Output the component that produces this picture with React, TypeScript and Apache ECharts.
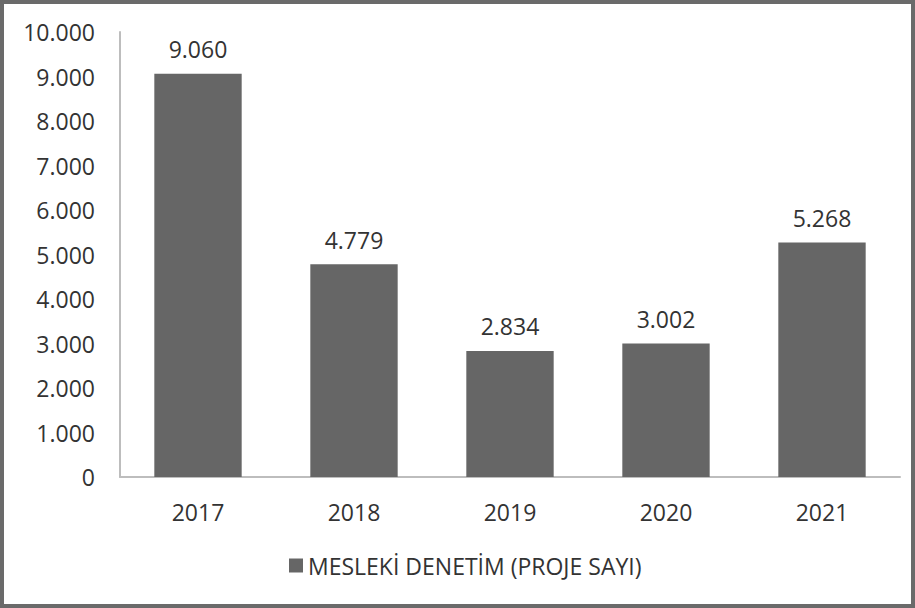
import React, { useEffect, useRef } from "react";
import * as echarts from "echarts";

const categories = ["2017", "2018", "2019", "2020", "2021"];
const values = [9060, 4779, 2834, 3002, 5268];
const seriesName = "MESLEKİ DENETİM (PROJE SAYI)";

const fmt = (v: number) => {
  const s = String(Math.round(v));
  return s.replace(/\B(?=(\d{3})+(?!\d))/g, ".");
};

const FONT = "Open Sans";
const TEXT = "#333333";

export default function App() {
  const ref = useRef<HTMLDivElement>(null);
  useEffect(() => {
    document.body.style.margin = "0";
    const chart = echarts.init(ref.current!, undefined, { renderer: "svg" });
    chart.setOption({
      animation: false,
      backgroundColor: "#ffffff",
      textStyle: { fontFamily: FONT, color: TEXT },
      graphic: [
        {
          type: "rect",
          shape: { x: 2, y: 2, width: 911, height: 604 },
          style: { fill: "none", stroke: "#6a6a6a", lineWidth: 4 },
          z: 100,
        },
      ],
      grid: { left: 120, right: 15, top: 32, bottom: 131, containLabel: false },
      legend: {
        bottom: 26,
        left: 284,
        itemWidth: 14,
        itemHeight: 14,
        itemGap: 6,
        icon: "rect",
        textStyle: { fontFamily: FONT, fontSize: 23, color: TEXT },
        data: [seriesName],
      },
      xAxis: {
        type: "category",
        data: categories,
        axisLine: { show: true, lineStyle: { color: "#bdbdbd", width: 2 } },
        axisTick: { show: false },
        axisLabel: { fontFamily: FONT, fontSize: 23, color: TEXT, margin: 23 },
      },
      yAxis: {
        type: "value",
        min: 0,
        max: 10000,
        interval: 1000,
        axisLine: { show: true, lineStyle: { color: "#bdbdbd", width: 2 } },
        axisTick: { show: false },
        splitLine: { show: false },
        axisLabel: {
          fontFamily: FONT,
          fontSize: 23,
          color: TEXT,
          margin: 25,
          formatter: (v: number) => fmt(v),
        },
      },
      series: [
        {
          name: seriesName,
          type: "bar",
          data: values,
          barCategoryGap: "44%",
          itemStyle: { color: "#666666" },
          label: {
            show: true,
            position: "top",
            distance: 13,
            fontFamily: FONT,
            fontSize: 23,
            color: TEXT,
            formatter: (p: any) => fmt(p.value),
          },
        },
      ],
    });
    return () => chart.dispose();
  }, []);
  return (
    <div
      ref={ref}
      style={{ position: "absolute", left: 0, top: 0, width: 915, height: 608 }}
    />
  );
}
